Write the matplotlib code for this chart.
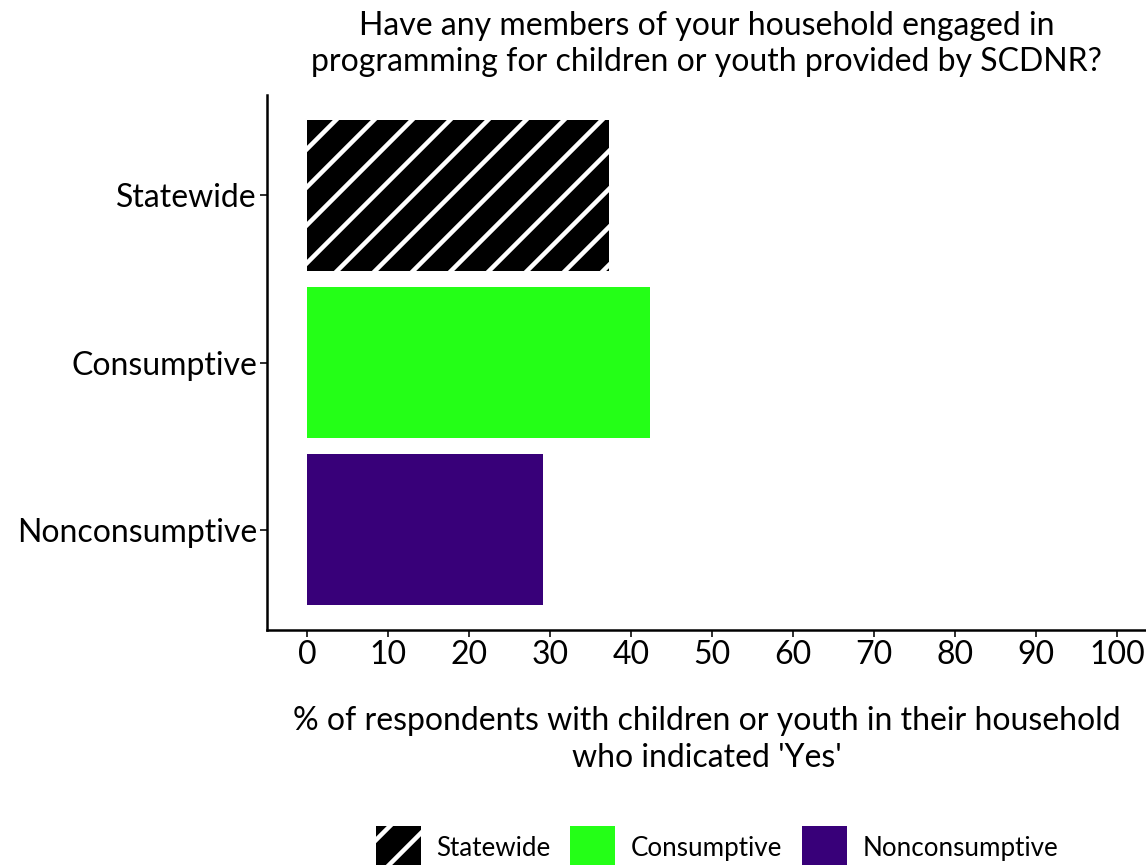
import matplotlib
matplotlib.use("Agg")
import matplotlib.pyplot as plt
from matplotlib.patches import Patch

# data
groups = ["Nonconsumptive", "Consumptive", "Statewide"]
values = [29.1, 42.3, 37.2]
colors = ["#380079", "#24ff17", "black"]
hatches = [None, None, "//"]
xticks = list(range(0, 101, 10))

W, H = 1146, 865
DPI = 228
px = 72.0 / DPI  # one pixel in points

plt.rcParams["font.family"] = ["Lato", "DejaVu Sans"]
plt.rcParams["hatch.linewidth"] = 4.5 * px
plt.rcParams["hatch.color"] = "white"

fig = plt.figure(figsize=(W / DPI, H / DPI), dpi=DPI)
ax = fig.add_axes([267 / W, (H - 630) / H, (W - 267) / W, 535 / H])

for i, (g, v, c, h) in enumerate(zip(groups, values, colors, hatches)):
    ax.barh(i, v, height=0.9, color=c, hatch=h,
            edgecolor="white" if h else c, linewidth=0)

ax.set_xlim(-5, 103.6)
ax.set_ylim(-0.6, 2.6)
ax.set_yticks(range(len(groups)))
ax.set_yticklabels(groups)
ax.set_xticks(xticks)

fs = 32 * px
ax.tick_params(axis="both", labelsize=fs, length=7 * px, width=2 * px,
               color="#333333", pad=3 * px)
for s in ["top", "right"]:
    ax.spines[s].set_visible(False)
for s in ["left", "bottom"]:
    ax.spines[s].set_linewidth(2.5 * px)

ax.set_title("Have any members of your household engaged in\n"
             "programming for children or youth provided by SCDNR?",
             fontsize=fs, pad=24 * px, linespacing=1.25)
ax.set_xlabel("% of respondents with children or youth in their household\n"
              "who indicated 'Yes'", fontsize=fs, labelpad=36 * px,
              linespacing=1.3)

handles = [Patch(facecolor="black", hatch="//", edgecolor="white", linewidth=0),
           Patch(facecolor=colors[1]),
           Patch(facecolor=colors[0])]
fig.legend(handles, ["Statewide", "Consumptive", "Nonconsumptive"],
           loc="center", bbox_to_anchor=(717 / W, 1 - 848 / H), ncol=3,
           frameon=False, fontsize=26 * px, handlelength=1.73, handleheight=2.2,
           columnspacing=0.75, handletextpad=0.6, borderpad=0)

fig.savefig("out.png", dpi=DPI)
